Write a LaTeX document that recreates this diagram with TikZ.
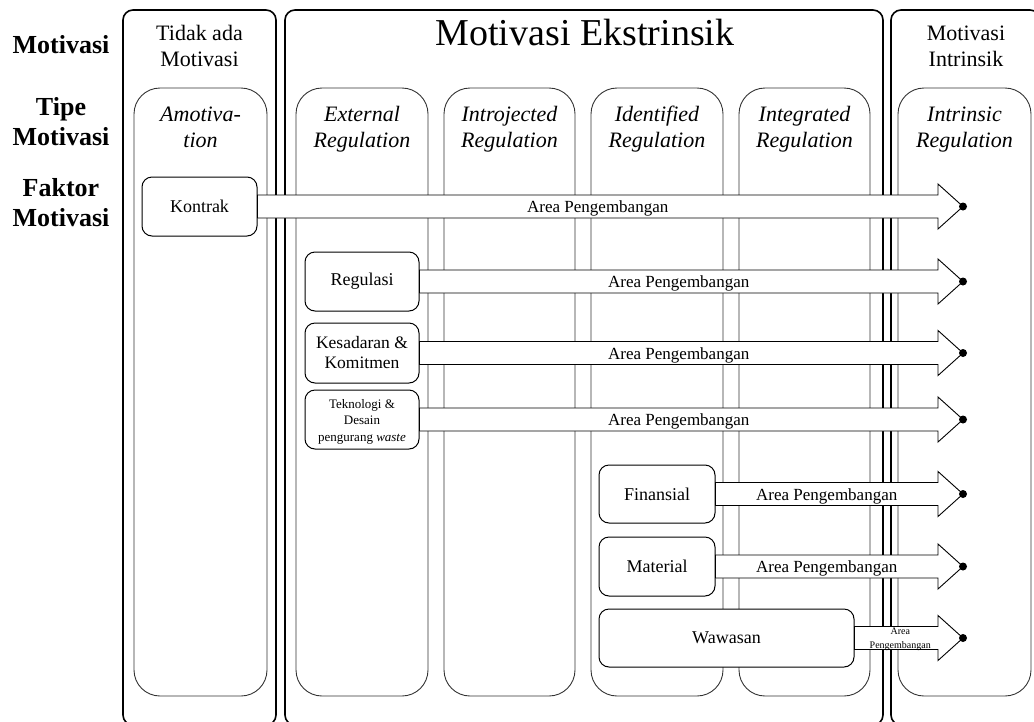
\documentclass[tikz,border=0pt]{standalone}
\usepackage{fontspec}
\setmainfont{Liberation Serif}
\usetikzlibrary{calc}
\tikzset{
  outercol/.style={draw=black, line width=1.6pt, rounded corners=10pt, minimum height=715pt, inner sep=0pt},
  typebox/.style={draw=black!80, line width=0.9pt, rounded corners=26pt, minimum height=608pt, inner sep=0pt},
  factor/.style={draw=black, fill=white, line width=1pt, rounded corners=10pt, inner sep=1pt, align=center, font=\fontsize{18}{20}\selectfont},
  arrowbody/.style={draw=black, fill=white, line width=0.9pt, line join=miter},
  arealabel/.style={font=\fontsize{17}{20}\selectfont, inner sep=0pt, align=center},
  typelabel/.style={font=\fontsize{22}{26}\selectfont\itshape, align=center, inner sep=0pt},
  colhead/.style={font=\fontsize{22}{26}\selectfont, align=center, inner sep=0pt},
  rowhead/.style={font=\fontsize{26}{30}\selectfont\bfseries, align=center, inner sep=0pt}
}
\newcommand{\areaarrow}[4]{%
  \coordinate (#2b) at ($(#2)+(-25,0)$);
  \draw[arrowbody] ($(#1.east)+(0,-11.5)$) -- ($(#2b)+(0,-11.5)$) -- ($(#2b)+(0,-22.5)$)
     -- (#2) -- ($(#2b)+(0,22.5)$) -- ($(#2b)+(0,11.5)$) -- ($(#1.east)+(0,11.5)$) -- cycle;
  \fill (#2) circle (4pt);
  \node[arealabel,#3] (#2l) at ($(#1.east)!0.5!(#2b)$) {#4};
}
\begin{document}
\begin{tikzpicture}[x=1pt,y=-1pt]
\useasboundingbox (0,0) rectangle (1034,721);
\clip (0,0) rectangle (1034,721);

% outer columns
\node[outercol, minimum width=153pt] (col1) at (199.5,367.5) {};
\node[outercol, minimum width=598pt] (col2) at (584,367.5) {};
\node[outercol, minimum width=149pt] (col3) at (965.5,367.5) {};

% type boxes
\node[typebox, minimum width=133pt] (amot) at (200.5,392) {};
\node[typebox, minimum width=132pt] (ext) at (362,392) {};
\node[typebox, minimum width=131pt] (intro) at (509.5,392) {};
\node[typebox, minimum width=132pt] (ident) at (657,392) {};
\node[typebox, minimum width=131pt] (integ) at (804.5,392) {};
\node[typebox, minimum width=133pt] (intrin) at (964.5,392) {};

% row headings
\node[rowhead, anchor=base] (rMot) at (61,53) {Motivasi};
\node[rowhead] (rTipe) at (61,124) {\strut Tipe\\\strut Motivasi};
\node[rowhead] (rFak) at (61,205) {\strut Faktor\\\strut Motivasi};

% column headings
\node[colhead] (h1) at (199.5,47.8) {\strut Tidak ada\\\strut Motivasi};
\node[font=\fontsize{38}{44}\selectfont, anchor=base, inner sep=0pt] (h2) at (585,45) {Motivasi Ekstrinsik};
\node[colhead] (h3) at (966,47.8) {\strut Motivasi\\\strut Intrinsik};

% type labels
\node[typelabel] (lAmot) at (200.5,128.8) {\strut Amotiva-\\\strut tion};
\node[typelabel] (lExt) at (362,128.8) {\strut External\\\strut Regulation};
\node[typelabel] (lIntro) at (509.5,128.8) {\strut Introjected\\\strut Regulation};
\node[typelabel] (lIdent) at (657,128.8) {\strut Identified\\\strut Regulation};
\node[typelabel] (lInteg) at (804.5,128.8) {\strut Integrated\\\strut Regulation};
\node[typelabel] (lIntrin) at (964.5,128.8) {\strut Intrinsic\\\strut Regulation};

% factor boxes
\node[factor, minimum width=115pt, minimum height=59pt] (kontrak) at (199.5,206.5) {Kontrak};
\node[factor, minimum width=114pt, minimum height=59pt] (regulasi) at (362,281.5) {Regulasi};
\node[factor, minimum width=114pt, minimum height=60pt, font=\fontsize{17.5}{20}\selectfont] (kesadaran) at (362,353) {Kesadaran \&\\Komitmen};
\node[factor, minimum width=114pt, minimum height=59pt, font=\fontsize{13}{16.5}\selectfont] (teknologi) at (362,419.5) {};
\node[font=\fontsize{13}{16.5}\selectfont, align=center, inner sep=0pt] (teknologiText) at (362,421.5) {Teknologi \&\\Desain\\pengurang \textit{waste}};
\node[factor, minimum width=116pt, minimum height=58pt] (finansial) at (657,494) {Finansial};
\node[factor, minimum width=116pt, minimum height=59pt] (material) at (657,566.5) {Material};
\node[factor, minimum width=255pt, minimum height=58pt] (wawasan) at (726.5,638) {Wawasan};

% tips
\coordinate (t1) at (963,206.5);
\coordinate (t2) at (963,281.5);
\coordinate (t3) at (963,353);
\coordinate (t4) at (963,419.5);
\coordinate (t5) at (963,494);
\coordinate (t6) at (963,566.5);
\coordinate (t7) at (963,638);

% arrows
\areaarrow{kontrak}{t1}{yshift=-2pt}{Area Pengembangan}
\areaarrow{regulasi}{t2}{yshift=-2pt}{Area Pengembangan}
\areaarrow{kesadaran}{t3}{yshift=-2pt}{Area Pengembangan}
\areaarrow{teknologi}{t4}{yshift=-2pt}{Area Pengembangan}
\areaarrow{finansial}{t5}{yshift=-2pt}{Area Pengembangan}
\areaarrow{material}{t6}{yshift=-2pt}{Area Pengembangan}
\areaarrow{wawasan}{t7}{yshift=-1.6pt, xshift=4pt, font=\fontsize{10}{14}\selectfont}{Area\\Pengembangan}
\end{tikzpicture}
\end{document}
